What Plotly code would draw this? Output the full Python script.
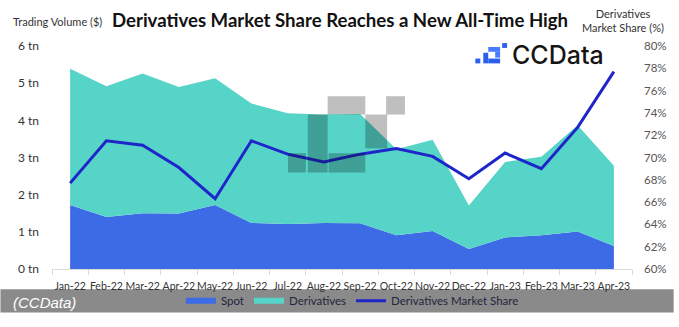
import plotly.graph_objects as go

# Monthly trading volume (trillions of USD) and derivatives market share (%)
months = ["Jan-22", "Feb-22", "Mar-22", "Apr-22", "May-22", "Jun-22", "Jul-22", "Aug-22",
          "Sep-22", "Oct-22", "Nov-22", "Dec-22", "Jan-23", "Feb-23", "Mar-23", "Apr-23"]
spot = [1.72, 1.40, 1.50, 1.49, 1.72, 1.24, 1.21, 1.24, 1.23, 0.91, 1.02, 0.54, 0.85, 0.91, 1.01, 0.62]
derivatives = [3.67, 3.52, 3.76, 3.41, 3.41, 3.21, 2.98, 2.92, 2.94, 2.31, 2.46, 1.17, 2.03, 2.11, 2.86, 2.16]
market_share = [67.7, 71.5, 71.1, 69.1, 66.3, 71.5, 70.3, 69.6, 70.3, 70.8, 70.1, 68.1, 70.4, 69.0, 72.7, 77.7]

left_ticks = [0, 1, 2, 3, 4, 5, 6]
left_tick_text = [f"{v} tn" for v in left_ticks]

W, H = 679, 327
L, R, T, B = 52, 42, 46, 50
PW, PH = W - L - R, H - T - B


def px(x):
    return (x - L) / PW


def py(y):
    return (H - B - y) / PH


fig = go.Figure()
fig.add_trace(go.Scatter(x=months, y=spot, name="Spot", stackgroup="vol",
                         mode="none", fillcolor="#3d6be6"))
fig.add_trace(go.Scatter(x=months, y=derivatives, name="Derivatives", stackgroup="vol",
                         mode="none", fillcolor="#56d4c8"))
fig.add_trace(go.Scatter(x=months, y=market_share, name="Derivatives Market Share",
                         yaxis="y2", mode="lines", line=dict(color="#1f26c9", width=3)))

shapes = []
# footer band
shapes.append(dict(type="rect", xref="paper", yref="paper", x0=px(0), x1=px(W),
                   y0=py(322), y1=py(298), fillcolor="#8a8a8a", line_width=0, layer="below"))

# translucent watermark blocks over the chart
for x0, y0, x1, y1 in [(330, 98, 368, 117), (389, 98, 408, 117), (368, 117, 390, 152),
                       (310, 117, 330, 177), (290, 157, 308, 177), (331, 157, 368, 177)]:
    shapes.append(dict(type="rect", xref="paper", yref="paper", x0=px(x0), x1=px(x1),
                       y0=py(y1), y1=py(y0), fillcolor="rgba(0,0,0,0.25)", line_width=0,
                       layer="above"))

# brand mark next to the wordmark
for x0, y0, x1, y1, c in [(479, 59, 484, 64, "#2c5ff0"), (487, 53, 492, 64, "#2c5ff0"),
                          (492, 59, 504, 64, "#2c5ff0"), (492, 47, 504, 52, "#4a7bff"),
                          (499, 52, 504, 58, "#4a7bff"), (506, 43, 511, 48, "#2c5ff0")]:
    shapes.append(dict(type="rect", xref="paper", yref="paper", x0=px(x0), x1=px(x1),
                       y0=py(y1), y1=py(y0), fillcolor=c, line_width=0, layer="above"))

annotations = [
    dict(text="<b>Derivatives Market Share Reaches a New All-Time High</b>", x=px(342), y=py(19),
         xref="paper", yref="paper", showarrow=False, xanchor="center", yanchor="middle",
         font=dict(family="Lato", size=18.6, color="#111111")),
    dict(text="Trading Volume ($)", x=px(11), y=py(21), xref="paper", yref="paper",
         showarrow=False, xanchor="left", yanchor="middle",
         font=dict(family="Lato", size=11, color="#333333")),
    dict(text="Derivatives<br>Market Share (%)", x=px(628), y=py(20), xref="paper", yref="paper",
         showarrow=False, xanchor="center", yanchor="middle",
         font=dict(family="Lato", size=11, color="#333333")),
    dict(text="CCData", x=px(514), y=py(55), xref="paper", yref="paper", showarrow=False,
         xanchor="left", yanchor="middle",
         font=dict(family="Inter", size=25, color="#151515", weight=500)),
    dict(text="<i>(CCData)</i>", x=px(11), y=py(312), xref="paper", yref="paper",
         showarrow=False, xanchor="left", yanchor="middle",
         font=dict(family="Liberation Sans", size=15, color="#ffffff")),
]

fig.update_layout(
    width=W, height=H,
    margin=dict(l=L, r=R, t=T, b=B),
    paper_bgcolor="white", plot_bgcolor="white",
    font=dict(family="Lato", size=12, color="#333333"),
    xaxis=dict(range=[-0.5, 15.5], showgrid=False, showline=True, linecolor="#d9d9d9",
               ticks="outside", tickson="boundaries", ticklen=5, tickcolor="#d9d9d9",
               tickangle=0, ticklabelstandoff=7,
               tickfont=dict(size=10.5, color="#333333"), fixedrange=True),
    yaxis=dict(range=[0, 6], tickvals=left_ticks, ticktext=left_tick_text, showgrid=False,
               zeroline=False, showline=False, ticklabelstandoff=12,
               tickfont=dict(size=12, color="#333333")),
    yaxis2=dict(range=[60, 80], dtick=2, ticksuffix="%", overlaying="y", side="right",
                showgrid=False, zeroline=False, showline=False, ticklabelstandoff=11,
                tickfont=dict(size=11.5, color="#555555")),
    showlegend=True,
    legend=dict(orientation="h", x=px(182), y=py(310), xanchor="left", yanchor="middle",
                bgcolor="rgba(0,0,0,0)", font=dict(size=11.5, color="#23263d"),
                itemwidth=30, traceorder="normal"),
    shapes=shapes,
    annotations=annotations,
)

fig.write_html("out.html")
